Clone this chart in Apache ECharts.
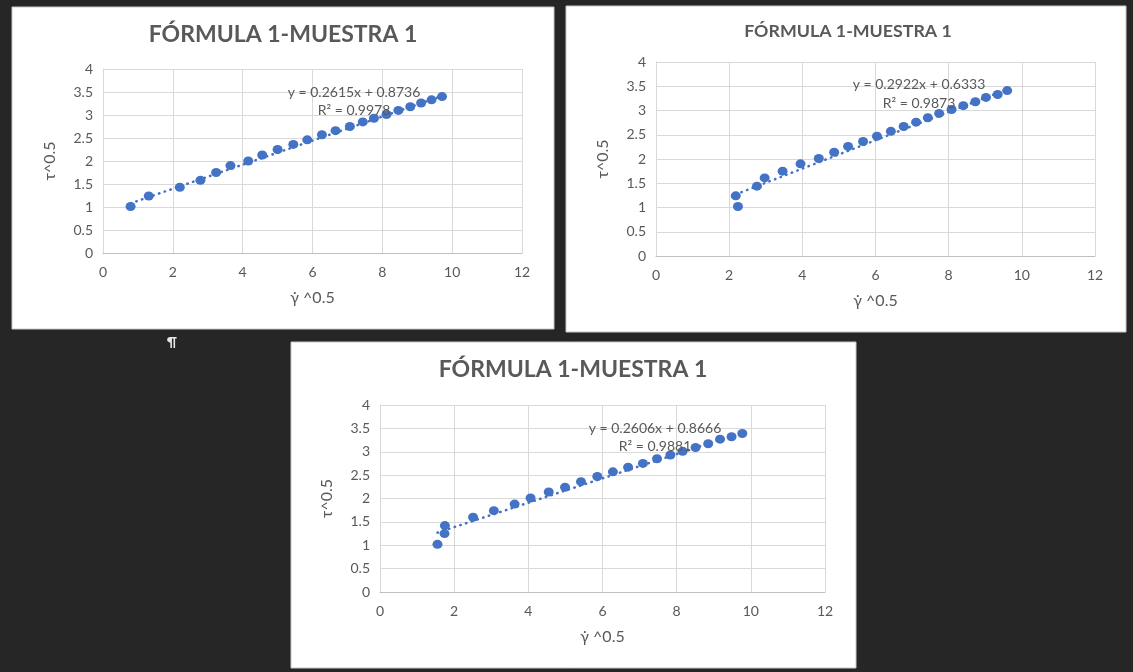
<!DOCTYPE html>
<html>
<head>
<meta charset="utf-8">
<style>
  html, body { margin: 0; padding: 0; background: #262626; }
  #chart { width: 1133px; height: 672px; }
</style>
<script src="https://cdn.jsdelivr.net/npm/echarts@6/dist/echarts.min.js"></script>
</head>
<body>
<div id="chart"></div>
<script>
// Shared axis ticks
const xTicks = [0, 2, 4, 6, 8, 10, 12];
const yTicks = [0, 0.5, 1, 1.5, 2, 2.5, 3, 3.5, 4];
const chartTitle = 'FÓRMULA 1-MUESTRA 1';
const xName = 'γ̇ ^0.5';
const yName = 'τ^0.5';

// Sample set 1
const x1 = [0.79, 1.31, 2.20, 2.79, 3.24, 3.65, 4.16, 4.56, 5.00, 5.45, 5.85, 6.27, 6.66, 7.07, 7.44, 7.76, 8.12, 8.46, 8.80, 9.11, 9.41, 9.71];
const y1 = [1.01, 1.24, 1.43, 1.58, 1.75, 1.90, 2.00, 2.13, 2.25, 2.36, 2.46, 2.57, 2.66, 2.75, 2.85, 2.93, 3.01, 3.10, 3.18, 3.26, 3.33, 3.40];
const fit1 = { slope: 0.2615, intercept: 0.8736, r2: '0.9978' };

// Sample set 2
const x2 = [2.18, 2.24, 2.76, 2.97, 3.46, 3.95, 4.45, 4.87, 5.25, 5.66, 6.04, 6.42, 6.77, 7.11, 7.43, 7.74, 8.08, 8.40, 8.73, 9.02, 9.34, 9.60];
const y2 = [1.24, 1.02, 1.44, 1.61, 1.75, 1.90, 2.01, 2.14, 2.26, 2.36, 2.47, 2.57, 2.67, 2.76, 2.85, 2.94, 3.02, 3.10, 3.18, 3.27, 3.33, 3.41];
const fit2 = { slope: 0.2922, intercept: 0.6333, r2: '0.9873' };

// Sample set 3
const x3 = [1.55, 1.74, 1.75, 2.51, 3.07, 3.63, 4.06, 4.55, 4.99, 5.42, 5.86, 6.28, 6.69, 7.09, 7.47, 7.83, 8.16, 8.51, 8.85, 9.17, 9.48, 9.77];
const y3 = [1.02, 1.25, 1.42, 1.60, 1.74, 1.88, 2.01, 2.14, 2.24, 2.36, 2.47, 2.57, 2.67, 2.75, 2.85, 2.93, 3.01, 3.09, 3.17, 3.27, 3.32, 3.39];
const fit3 = { slope: 0.2606, intercept: 0.8666, r2: '0.9881' };

const BLUE = '#4472C4';
const TXT = '#595959';
const GRID = '#d9d9d9';
const FONT = 'Lato, "Open Sans", sans-serif';

// Panel frames and plot areas
const panels = [
  { rect: [12, 7, 542, 322], grid: { left: 103, top: 69, width: 419, height: 184 },
    title: [283, 35, 23], eq: [354, 92, 110], xs: x1, ys: y1, fit: fit1 },
  { rect: [566, 6, 560, 326], grid: { left: 656, top: 62, width: 439, height: 194 },
    title: [848, 31, 17.8], eq: [919, 84, 103], xs: x2, ys: y2, fit: fit2 },
  { rect: [291, 342, 565, 326], grid: { left: 380, top: 405, width: 445, height: 187 },
    title: [573, 370, 23], eq: [655, 428, 446], xs: x3, ys: y3, fit: fit3 }
];

const fmt = v => String(v);

const option = {
  backgroundColor: '#262626',
  animation: false,
  grid: panels.map(p => Object.assign({ containLabel: false }, p.grid)),
  xAxis: panels.map((p, i) => ({
    type: 'value', gridIndex: i,
    min: xTicks[0], max: xTicks[xTicks.length - 1], interval: xTicks[1] - xTicks[0],
    name: xName, nameLocation: 'middle', nameGap: 37,
    nameTextStyle: { color: TXT, fontSize: 16, fontFamily: FONT },
    axisLine: { show: true, onZero: false, lineStyle: { color: '#bfbfbf', width: 1 } },
    axisTick: { show: false },
    axisLabel: { color: TXT, fontSize: 14, fontFamily: FONT, margin: 12, formatter: fmt },
    splitLine: { show: true, lineStyle: { color: GRID, width: 1 } }
  })),
  yAxis: panels.map((p, i) => ({
    type: 'value', gridIndex: i,
    min: yTicks[0], max: yTicks[yTicks.length - 1], interval: yTicks[1] - yTicks[0],
    name: yName, nameLocation: 'middle', nameGap: 45,
    nameTextStyle: { color: TXT, fontSize: 16, fontFamily: FONT },
    axisLine: { show: true, lineStyle: { color: GRID, width: 1 } },
    axisTick: { show: false },
    axisLabel: { color: TXT, fontSize: 14, fontFamily: FONT, margin: 10, formatter: fmt },
    splitLine: { show: true, lineStyle: { color: GRID, width: 1 } }
  })),
  series: [],
  graphic: []
};

panels.forEach((p, i) => {
  // Linear trend line over the data range
  const xmin = Math.min(...p.xs), xmax = Math.max(...p.xs);
  option.series.push({
    type: 'line', xAxisIndex: i, yAxisIndex: i, symbol: 'none', z: 2,
    data: [[xmin, p.fit.slope * xmin + p.fit.intercept], [xmax, p.fit.slope * xmax + p.fit.intercept]],
    lineStyle: { color: BLUE, width: 2.5, type: [0.5, 5.5], cap: 'round' }
  });
  option.series.push({
    type: 'scatter', xAxisIndex: i, yAxisIndex: i, z: 3,
    symbol: 'circle', symbolSize: [10, 9],
    itemStyle: { color: BLUE, opacity: 1 },
    data: p.xs.map((x, k) => [x, p.ys[k]])
  });

  // White panel behind each plot
  option.graphic.push({
    type: 'rect', z: -10, silent: true,
    shape: { x: p.rect[0], y: p.rect[1], width: p.rect[2], height: p.rect[3] },
    style: { fill: '#ffffff', stroke: '#c8c8c8', lineWidth: 1 }
  });
  // Chart title
  option.graphic.push({
    type: 'text', z: 10, x: p.title[0], y: p.title[1],
    style: { text: chartTitle, fill: TXT, font: 'bold ' + p.title[2] + 'px ' + FONT,
             textAlign: 'center', textVerticalAlign: 'middle' }
  });
  // Trend-line equation and R²
  const eqText = 'y = ' + p.fit.slope + 'x + ' + p.fit.intercept;
  option.graphic.push({
    type: 'text', z: 10, x: p.eq[0], y: p.eq[1],
    style: { text: eqText, fill: TXT, font: '14px ' + FONT, textAlign: 'center', textVerticalAlign: 'middle' }
  });
  option.graphic.push({
    type: 'text', z: 10, x: p.eq[0], y: p.eq[2],
    style: { text: 'R² = ' + p.fit.r2, fill: TXT, font: '14px ' + FONT, textAlign: 'center', textVerticalAlign: 'middle' }
  });
});

// Paragraph mark between the panels
option.graphic.push({
  type: 'text', z: 10, x: 172, y: 342,
  style: { text: '¶', fill: '#e6e6e6', font: 'bold 14px ' + FONT, textAlign: 'center', textVerticalAlign: 'middle' }
});

const chart = echarts.init(document.getElementById('chart'), null, { renderer: 'canvas' });
chart.setOption(option);
</script>
</body>
</html>
